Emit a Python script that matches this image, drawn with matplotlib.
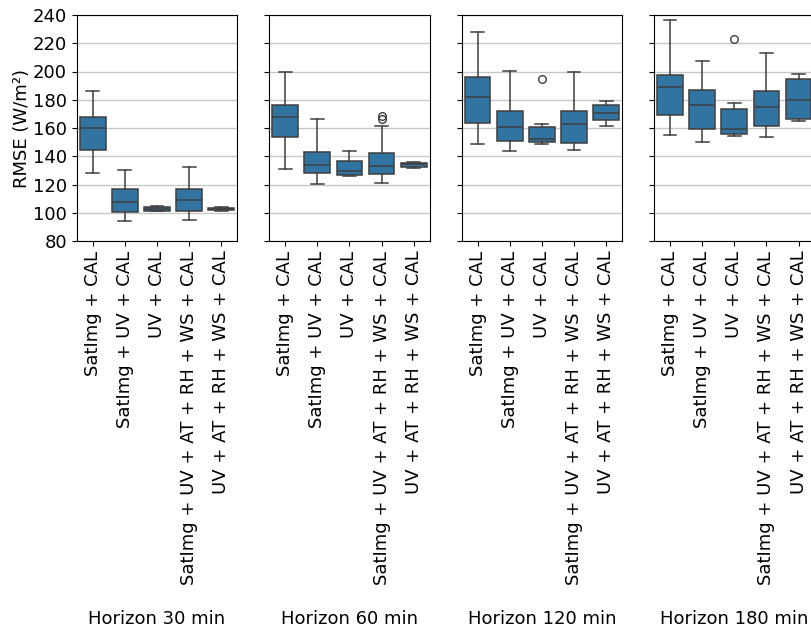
import matplotlib.pyplot as plt
import numpy as np

# feature sets (same for every horizon)
modelos = ['SatImg + CAL', 'SatImg + UV + CAL', 'UV + CAL',
           'SatImg + UV + AT + RH + WS + CAL', 'UV + AT + RH + WS + CAL']
horizontes = ['Horizon 30 min', 'Horizon 60 min', 'Horizon 120 min', 'Horizon 180 min']

# box statistics: [whislo, q1, med, q3, whishi]
h30 = [[128.1, 144.2, 159.8, 167.8, 186.2],
       [94.4, 100.3, 107.8, 116.6, 130.3],
       [101.0, 101.2, 102.7, 104.1, 104.8],
       [94.6, 101.0, 108.8, 116.6, 132.4],
       [101.0, 101.7, 102.6, 103.1, 103.8]]
h60 = [[130.8, 153.6, 167.6, 176.1, 199.4],
       [120.4, 128.1, 133.8, 143.2, 166.6],
       [126.2, 126.7, 129.6, 136.9, 143.7],
       [121.3, 127.7, 133.1, 142.1, 161.2],
       [131.7, 132.4, 134.3, 135.2, 135.7]]
h120 = [[148.7, 163.5, 181.7, 196.1, 228.0],
        [143.7, 150.6, 160.9, 172.3, 200.4],
        [148.9, 149.9, 152.4, 160.9, 163.0],
        [144.4, 149.6, 162.6, 172.0, 199.9],
        [161.2, 165.5, 170.4, 176.1, 179.1]]
h180 = [[154.8, 169.0, 188.8, 197.3, 236.5],
        [150.1, 159.5, 176.1, 186.7, 207.2],
        [154.3, 155.5, 159.1, 173.7, 177.9],
        [153.4, 161.2, 174.9, 186.2, 213.1],
        [164.7, 166.2, 179.8, 194.9, 198.5]]

# outliers
out30 = [[], [], [], [], []]
out60 = [[], [], [], [166.2, 168.5], []]
out120 = [[], [], [194.5], [], []]
out180 = [[], [], [223.2], [], []]

dados = [h30, h60, h120, h180]
outliers = [out30, out60, out120, out180]

plt.rcParams['font.size'] = 13

fig = plt.figure(figsize=(8.11, 6.34), dpi=100)

cor_box = '#3274a1'
cor_linha = '#3f3f3f'

left0 = 76.7 / 811
passo = 192.4 / 811
largura = 160.7 / 811
base = (634 - 241) / 634
altura = 226 / 634

for i in range(4):
    ax = fig.add_axes([left0 + i * passo, base, largura, altura])
    stats = []
    for j, s in enumerate(dados[i]):
        stats.append({'whislo': s[0], 'q1': s[1], 'med': s[2], 'q3': s[3],
                      'whishi': s[4], 'fliers': outliers[i][j]})
    ax.bxp(stats, positions=np.arange(5), widths=0.8, patch_artist=True,
           boxprops=dict(facecolor=cor_box, edgecolor=cor_linha, linewidth=1.1),
           medianprops=dict(color=cor_linha, linewidth=1.1),
           whiskerprops=dict(color=cor_linha, linewidth=1.1),
           capprops=dict(color=cor_linha, linewidth=1.1),
           capwidths=0.4,
           flierprops=dict(marker='o', markerfacecolor='none',
                           markeredgecolor=cor_linha, markersize=5.5))
    ax.set_xlim(-0.5, 4.5)
    ax.set_ylim(80, 240)
    ax.set_yticks(np.arange(80, 241, 20))
    ax.set_xticks(np.arange(5))
    ax.set_xticklabels(modelos, rotation=90)
    ax.yaxis.grid(True, color='#b0b0b0', linewidth=1.0, alpha=0.7)
    ax.set_axisbelow(True)
    ax.set_xlabel(horizontes[i], labelpad=18)
    if i == 0:
        ax.set_ylabel('RMSE (W/m²)', labelpad=1)
    else:
        ax.tick_params(axis='y', labelleft=False)

plt.savefig('out.png', dpi=100)
